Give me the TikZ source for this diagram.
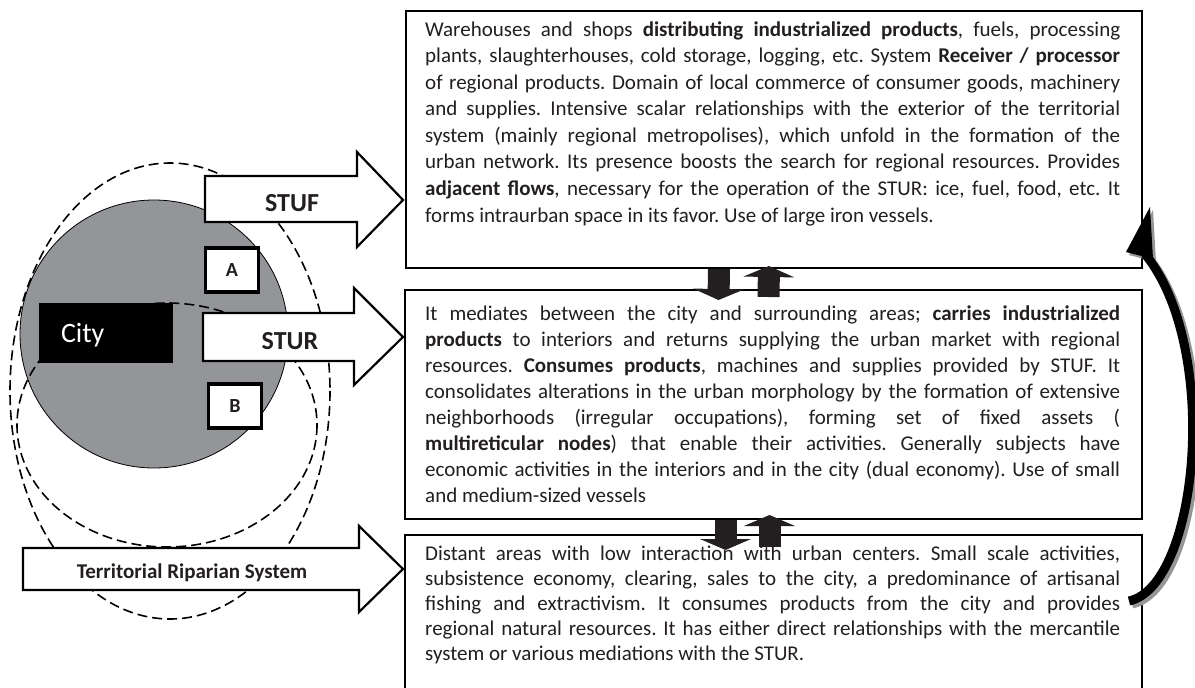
\documentclass[tikz,border=0pt]{standalone}
\usepackage{fontspec}
\setmainfont{Carlito}
\usetikzlibrary{positioning, calc, arrows.meta}
\definecolor{inkDark}{RGB}{35, 31, 32}
\definecolor{cityGray}{RGB}{147, 149, 152}
\definecolor{shadowGray}{RGB}{150, 150, 150}
\tikzstyle{panel} = [rectangle, draw=black, line width=2pt, fill=white, inner sep=0pt, anchor=north west]
\tikzstyle{paratext} = [text width=695pt, inner sep=0pt, anchor=base west, align=justify, text=inkDark]
\tikzstyle{blockarrow} = [draw=black, line width=2.2pt, fill=white, line join=miter]
\tikzstyle{arrowlabel} = [text=inkDark, font=\bfseries\fontsize{26}{30}\selectfont]
\tikzstyle{zone} = [draw=black, line width=1.6pt, dash pattern=on 10pt off 5pt]
\tikzstyle{letterbox} = [rectangle, draw=black, line width=3.5pt, fill=white, minimum width=53pt, minimum height=44pt, inner sep=0pt, text=inkDark, font=\bfseries\fontsize{20}{24}\selectfont]
\tikzstyle{flowarrow} = [line width=22pt, draw=inkDark, -{Triangle[width=51pt, length=11pt, line width=0pt]}]
\tikzstyle{loopline} = [line width=9pt, line cap=butt]
\newcommand{\panelfont}[1]{\fontsize{21}{#1}\selectfont\frenchspacing\hbadness=10000 \tolerance=10000 \hyphenpenalty=10000 }

\begin{document}
\begin{tikzpicture}[x=1pt, y=-1pt]
\useasboundingbox (0,0) rectangle (1195,688);

% city and its surroundings
\node (town) [circle, draw=black, line width=0.8pt, fill=cityGray, minimum size=268pt, inner sep=0pt] at (154,334) {};
\draw [zone] (170,391) ellipse [x radius=160, y radius=228];
\draw [zone] (167,425) ellipse [x radius=150, y radius=122];
\node (city) [rectangle, fill=black, text=white, minimum width=134pt, minimum height=60pt, text width=90pt, inner xsep=22pt, align=left, text depth=0pt, font=\fontsize{28}{32}\selectfont] at (106,333) {City};
\node (boxA) [letterbox] at (232,270) {A};
\node (boxB) [letterbox] at (235,406) {B};

% systems
\draw [blockarrow] (205,176) -- (357,176) -- (357,152) -- (403,200) -- (357,247) -- (357,222) -- (205,222) -- cycle;
\node (stufArrow) [arrowlabel] at (292,203) {STUF};
\draw [blockarrow] (203,313) -- (354,313) -- (354,288) -- (403,337) -- (354,385) -- (354,361) -- (203,361) -- cycle;
\node (sturArrow) [arrowlabel] at (290,341) {STUR};
\draw [blockarrow] (23,548) -- (359,548) -- (359,526) -- (403,569) -- (359,612) -- (359,590) -- (23,590) -- cycle;
\node (trsArrow) [arrowlabel, anchor=base, font=\bfseries\fontsize{21}{25}\selectfont] at (192,578) {Territorial Riparian System};

% descriptions
\node (stufBox) [panel, minimum width=736pt, minimum height=257pt] at (405,10) {};
\node (stufText) [paratext, font=\panelfont{26.6}] at ($(stufBox.north west)+(20,26)$) {Warehouses and shops \textbf{distributing industrialized products}, fuels, processing\linebreak
plants, slaughterhouses, cold storage, logging, etc. System \textbf{Receiver / processor}\linebreak
of regional products. Domain of local commerce of consumer goods, machinery\linebreak
and supplies. Intensive scalar relationships with the exterior of the territorial\linebreak
system (mainly regional metropolises), which unfold in the formation of the\linebreak
urban network. Its presence boosts the search for regional resources. Provides\linebreak
\textbf{adjacent flows}, necessary for the operation of the STUR: ice, fuel, food, etc. It\linebreak
forms intraurban space in its favor. Use of large iron vessels.};

\node (sturBox) [panel, minimum width=737pt, minimum height=229pt] at (404,289) {};
\node (sturText) [paratext, font=\panelfont{26}] at ($(sturBox.north west)+(21,31)$) {It mediates between the city and surrounding areas; \textbf{carries industrialized}\linebreak
\textbf{products} to interiors and returns supplying the urban market with regional\linebreak
resources. \textbf{Consumes products}, machines and supplies provided by STUF. It\linebreak
consolidates alterations in the urban morphology by the formation of extensive\linebreak
neighborhoods (irregular occupations), forming set of fixed assets (\linebreak
\textbf{multireticular nodes}) that enable their activities. Generally subjects have\linebreak
economic activities in the interiors and in the city (dual economy). Use of small\linebreak
and medium-sized vessels};

\node (trsBox) [panel, minimum width=737pt, minimum height=170pt] at (404,534) {};
\node (trsText) [paratext, font=\panelfont{25.2}] at ($(trsBox.north west)+(21,26)$) {Distant areas with low interaction with urban centers. Small scale activities,\linebreak
subsistence economy, clearing, sales to the city, a predominance of artisanal\linebreak
fishing and extractivism. It consumes products from the city and provides\linebreak
regional natural resources. It has either direct relationships with the mercantile\linebreak
system or various mediations with the STUR.};

% exchanges between levels
\draw [flowarrow] ($(stufBox.south)+(-55,0)$) -- ($(sturBox.north)+(-55,11)$);
\draw [flowarrow] ($(sturBox.north)+(-5,8)$) -- ($(stufBox.south)+(-5,-3)$);
\draw [flowarrow] ($(sturBox.south)+(-48,0)$) -- ($(trsBox.north)+(-48,16)$);
\draw [flowarrow] ($(trsBox.north)+(-4,13)$) -- ($(sturBox.south)+(-4,-5)$);

% return loop
\coordinate (loopStart) at ($(trsBox.east)+(-14,-19)$);
\coordinate (loopEnd) at ($(stufBox.south east)+(2,-15)$);
\coordinate (loopTip) at ($(stufBox.south east)+(7,-62)$);
\begin{scope}[transform canvas={xshift=3pt, yshift=-3pt}]
\draw [loopline, shadowGray] (loopStart) .. controls +(70,-15) and +(76,93) .. (loopEnd);
\fill [shadowGray] (loopTip) -- ($(loopEnd)+(-19,-2)$) -- ($(loopEnd)+(8,5)$) -- cycle;
\end{scope}
\draw [loopline, black] (loopStart) .. controls +(70,-15) and +(76,93) .. (loopEnd);
\fill [black] (loopTip) -- ($(loopEnd)+(-19,-2)$) -- ($(loopEnd)+(8,5)$) -- cycle;

\end{tikzpicture}
\end{document}
